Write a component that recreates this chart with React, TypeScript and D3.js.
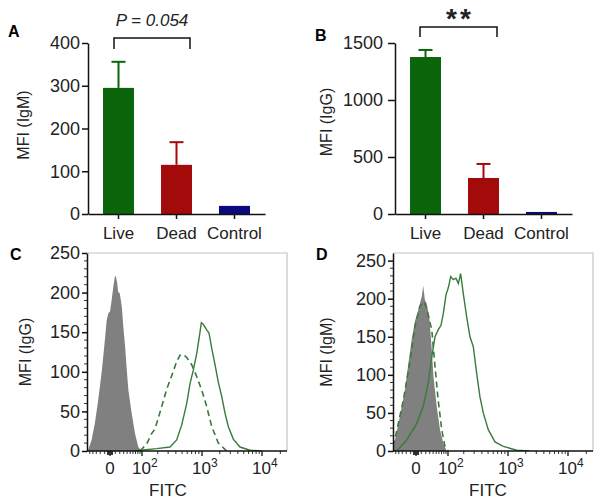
import * as d3 from "d3";
import { useRef, useEffect } from "react";

const FONT = "'Liberation Sans', Arial, Helvetica, sans-serif";

// ---- bar charts (A, B)
const groups = ["Live", "Dead", "Control"];
const igmMean = [295, 115, 19];
const igmSd = [61, 53, 0];
const iggMean = [1377, 316, 18];
const iggSd = [62, 123, 0];
const igmTicks = [0, 100, 200, 300, 400];
const iggTicks = [0, 500, 1000, 1500];
const barColors = ["#0b650b", "#a30a0a", "#0a0a7d"];

// ---- flow histograms (C, D): FITC intensity vs count
const cControlFitc = [-59, -55, -44, -34, -25, -16, -9, -6, -3, 0, 3, 6, 9, 11, 14, 16, 20, 25, 29, 34, 39, 44, 55, 68, 82, 98];
const cControlCount = [0, 2, 14, 35, 64, 102, 144, 165, 174, 176, 191, 207, 220, 221, 212, 201, 199, 182, 157, 132, 102, 77, 48, 22, 5, 0];
const cDeadFitc = [90, 125, 155, 179, 234, 284, 343, 412, 465, 522, 590, 702, 834, 990, 1203, 1463, 1890, 2610];
const cDeadCount = [0, 9, 22, 28, 56, 78, 95, 113, 121, 122, 118, 109, 94, 77, 56, 31, 10, 0];
const cLiveFitc = [56, 192, 322, 412, 494, 590, 662, 742, 834, 912, 977, 1053, 1203, 1317, 1463, 1663, 1890, 2155, 2445, 2775, 3360, 4340, 6350, 10000];
const cLiveCount = [0, 3, 5, 14, 33, 60, 85, 102, 123, 144, 162, 160, 153, 149, 130, 109, 87, 69, 48, 31, 15, 5, 1, 0];

const dControlFitc = [-59, -58, -53, -37, -23, -15, -8, -2, 4, 11, 14, 18, 22, 29, 36, 41, 52, 64, 78, 93];
const dControlCount = [0, 2, 14, 45, 80, 115, 146, 170, 185, 203, 217, 198, 194, 176, 133, 98, 58, 28, 10, 0];
const dDeadFitc = [-59, -27, -11, -2, 7, 16, 22, 36, 46, 57, 71, 85, 101];
const dDeadCount = [6, 67, 120, 163, 190, 196, 187, 159, 111, 67, 28, 6, 0];
const dLiveFitc = [-47, -19, 1, 14, 26, 36, 46, 57, 68, 78, 90, 101, 114, 128, 144, 160, 176, 196, 225, 256, 291, 330, 373, 421, 504, 639, 852, 1407, 2355];
const dLiveCount = [0, 14, 36, 58, 89, 124, 150, 159, 165, 181, 205, 214, 229, 225, 227, 220, 233, 207, 176, 150, 137, 102, 71, 50, 28, 12, 6, 1, 0];

const histTicks = [0, 50, 100, 150, 200, 250];
const histMinor = [10, 20, 30, 40, 60, 70, 80, 90, 110, 120, 130, 140, 160, 170, 180, 190, 210, 220, 230, 240];
const fitcMajor = [0, 100, 1000, 10000];
const fitcLabels = [["0", ""], ["10", "2"], ["10", "3"], ["10", "4"]];
const fitcMinor = [-50, -40, -30, -20, -10, 10, 20, 30, 40, 50, 60, 70, 80, 90,
  200, 300, 400, 500, 600, 700, 800, 900, 2000, 3000, 4000, 5000, 6000, 7000, 8000, 9000, 20000];
const fitcZero = [-4, -3, -2, -1, 1, 2, 3, 4];

const GREEN = "#3a7a3a";

function AxisG({ axis, transform, fontSize = 17 }: { axis: any; transform: string; fontSize?: number }) {
  const ref = useRef<SVGGElement | null>(null);
  useEffect(() => {
    const g = d3.select(ref.current!);
    g.call(axis);
    g.attr("font-family", FONT).attr("font-size", fontSize);
    g.selectAll(".domain, .tick line").attr("stroke", "#111").attr("stroke-width", 1.5);
    g.selectAll(".tick text").attr("fill", "#222");
  });
  return <g ref={ref} transform={transform} />;
}

function BarPanel({ x0, yMax, ticks, mean, sd, tickSize, tickPad, letter, letterY, ylabel, labelX, labelY }: any) {
  const top = 43, bottom = 214;
  const y = d3.scaleLinear([0, yMax], [bottom, top]);
  const x = d3.scaleBand(groups, [x0, x0 + 177]).paddingInner(0.466).paddingOuter(0.259);
  const bw = x.bandwidth();
  return (
    <g>
      <text x={x0 - 80} y={letterY} fontFamily={FONT} fontWeight="bold" fontSize={16}>{letter}</text>
      <text transform={`translate(${labelX},${labelY}) rotate(-90)`} textAnchor="middle" fontFamily={FONT} fontSize={16} fill="#222">{ylabel}</text>
      {groups.map((g, i) => {
        const cx = x(g)! + bw / 2;
        return (
          <g key={g}>
            {sd[i] > 0 && (
              <g stroke={barColors[i]} strokeWidth={2}>
                <line x1={cx} x2={cx} y1={y(mean[i])} y2={y(mean[i] + sd[i])} />
                <line x1={cx - 7} x2={cx + 7} y1={y(mean[i] + sd[i])} y2={y(mean[i] + sd[i])} />
              </g>
            )}
            <rect x={x(g)} width={bw} y={y(mean[i])} height={bottom - y(mean[i])} fill={barColors[i]} />
          </g>
        );
      })}
      <AxisG axis={d3.axisLeft(y).tickValues(ticks).tickFormat(d3.format("d")).tickSize(tickSize).tickPadding(tickPad).tickSizeOuter(0)}
        transform={`translate(${x0},0)`} fontSize={18} />
      <AxisG axis={d3.axisBottom(x).tickSize(5).tickPadding(8).tickSizeOuter(0)} transform={`translate(0,${bottom})`} />
    </g>
  );
}

function Histogram({ left, yMax, control, dead, live, letter, ylabel, labelX, fitcX }: any) {
  const top = 253, bottom = 451, width = 200;
  const sym = d3.scaleSymlog().constant(50).domain([0, 10000]).range([0, Math.log1p(10000 / 50)]);
  const seg = d3.scaleLinear()
    .domain([-60, 0, 100, 1000, 10000, 25700].map((v) => sym(v)))
    .range([0, 23, 55, 115, 175, 200].map((p) => left + p));
  const x = (v: number) => seg(sym(v));
  const y = d3.scaleLinear([0, yMax], [bottom, top]);
  const pts = (f: number[], c: number[]) => f.map((v, i) => [v, c[i]] as [number, number]);
  const area = d3.area<[number, number]>().x((d) => x(d[0])).y0(bottom).y1((d) => y(d[1]));
  const line = d3.line<[number, number]>().x((d) => x(d[0])).y((d) => y(d[1]));
  const clipId = `clip-${letter}`;
  return (
    <g>
      <defs>
        <clipPath id={clipId}><rect x={left} y={top} width={width} height={bottom - top} /></clipPath>
      </defs>
      <text x={left - 77} y={260} fontFamily={FONT} fontWeight="bold" fontSize={16}>{letter}</text>
      <text transform={`translate(${labelX},352) rotate(-90)`} textAnchor="middle" fontFamily={FONT} fontSize={16} fill="#222">{ylabel}</text>
      <g clipPath={`url(#${clipId})`}>
        <path d={area(pts(control[0], control[1]))!} fill="#808080" />
        <path d={line(pts(dead[0], dead[1]))!} fill="none" stroke={GREEN} strokeWidth={1.6} strokeDasharray="6,4" />
        <path d={line(pts(live[0], live[1]))!} fill="none" stroke={GREEN} strokeWidth={1.4} />
      </g>
      <path d={`M${left},${top}H${left + width}V${bottom}`} fill="none" stroke="#c4c4c4" strokeWidth={1.2} />
      <g stroke="#333" strokeWidth={1}>
        {histMinor.map((t) => <line key={t} x1={left - 3} x2={left} y1={y(t)} y2={y(t)} />)}
        {fitcMinor.map((t) => <line key={t} x1={x(t)} x2={x(t)} y1={bottom} y2={bottom + 3} />)}
        {fitcZero.map((t) => <line key={t} x1={x(t)} x2={x(t)} y1={bottom} y2={bottom + 4} strokeWidth={1.5} />)}
        {fitcMajor.map((t) => <line key={t} x1={x(t)} x2={x(t)} y1={bottom} y2={bottom + 5} strokeWidth={1.5} />)}
      </g>
      <line x1={left} x2={left + width} y1={bottom} y2={bottom} stroke="#111" strokeWidth={1.5} />
      <AxisG axis={d3.axisLeft(y).tickValues(histTicks).tickSize(5).tickPadding(2).tickSizeOuter(0)}
        transform={`translate(${left},0)`} fontSize={18} />
      <g fontFamily={FONT} fontSize={17} fill="#222">
        {fitcMajor.map((t, i) => (
          <text key={t} x={x(t) - (fitcLabels[i][1] ? 10 : 0)} y={474} textAnchor={fitcLabels[i][1] ? "start" : "middle"}>
            {fitcLabels[i][0]}
            {fitcLabels[i][1] && <tspan dy={-7} fontSize={12}>{fitcLabels[i][1]}</tspan>}
          </text>
        ))}
        <text x={fitcX} y={496} textAnchor="middle">FITC</text>
      </g>
    </g>
  );
}

export default function App() {
  return (
    <svg width={600} height={503} style={{ position: "absolute", left: 0, top: 0 }}>
      <rect width={600} height={503} fill="#fff" />
      <BarPanel x0={88} yMax={400} ticks={igmTicks} mean={igmMean} sd={igmSd} tickSize={6} tickPad={2}
        letter="A" letterY={37} ylabel="MFI (IgM)" labelX={29} labelY={125} />
      <path d="M114,49V38H190V49" fill="none" stroke="#111" strokeWidth={1.5} />
      <text x={152} y={26} textAnchor="middle" fontFamily={FONT} fontStyle="italic" fontSize={17} fill="#222">P = 0.054</text>

      <BarPanel x0={395} yMax={1500} ticks={iggTicks} mean={iggMean} sd={iggSd} tickSize={7} tickPad={5}
        letter="B" letterY={41} ylabel="MFI (IgG)" labelX={332} labelY={122} />
      <path d="M420,37V27H497V37" fill="none" stroke="#111" strokeWidth={1.5} />
      <text x={460} y={28} textAnchor="middle" fontFamily={FONT} fontWeight="bold" fontSize={28} letterSpacing={3} fill="#222">**</text>

      <Histogram left={87} yMax={250} control={[cControlFitc, cControlCount]} dead={[cDeadFitc, cDeadCount]}
        live={[cLiveFitc, cLiveCount]} letter="C" ylabel="MFI (IgG)" labelX={31} fitcX={168} />
      <Histogram left={393} yMax={260} control={[dControlFitc, dControlCount]} dead={[dDeadFitc, dDeadCount]}
        live={[dLiveFitc, dLiveCount]} letter="D" ylabel="MFI (IgM)" labelX={332} fitcX={488} />
    </svg>
  );
}
